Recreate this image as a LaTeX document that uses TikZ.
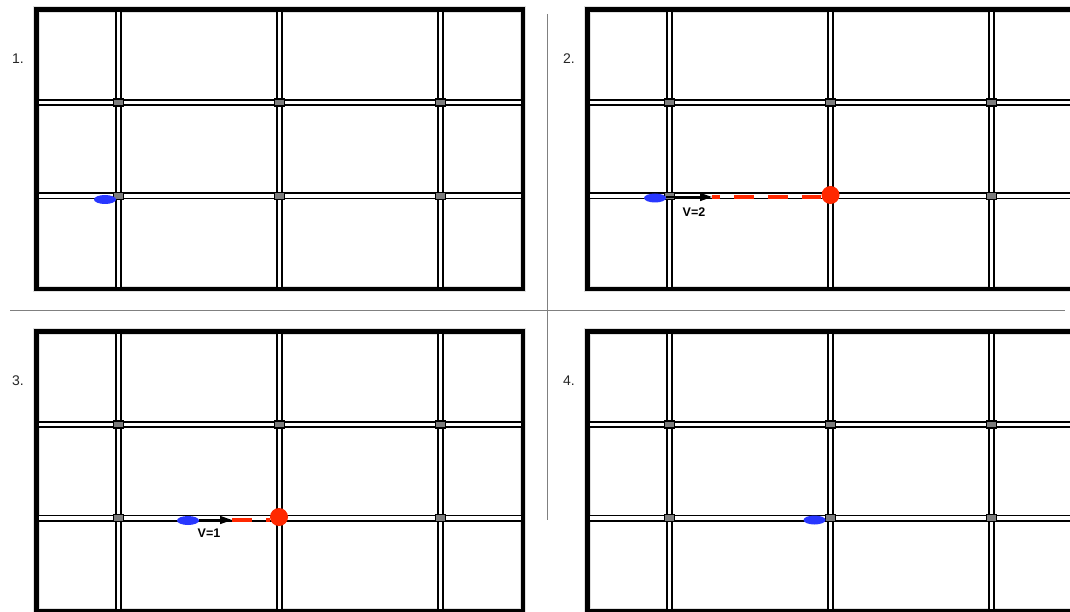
\documentclass[tikz,border=0pt]{standalone}
\usepackage{fontspec}
\setmainfont{Liberation Sans}
\usetikzlibrary{arrows.meta,shapes.geometric}
\definecolor{carblue}{RGB}{40,55,255}
\definecolor{goalred}{RGB}{255,40,0}
\definecolor{crossgray}{RGB}{125,125,125}
\tikzset{
  frameline/.style={line width=4.5pt, draw=black},
  frameshadow/.style={line width=6.5pt, draw=black!12},
  streetout/.style={line width=7pt, draw=black},
  streetin/.style={line width=3.4pt, draw=white},
  crossing/.style={rectangle, draw=black, fill=crossgray, line width=1.2pt, minimum width=9.5pt, minimum height=7pt, inner sep=0pt},
  car/.style={ellipse, fill=carblue, minimum width=22pt, minimum height=9pt, inner sep=0pt},
  goal/.style={circle, fill=goalred, minimum size=18pt, inner sep=0pt},
  panelnum/.style={font=\fontsize{14}{16}\selectfont, text=black!85, inner sep=0pt},
  speedtext/.style={font=\bfseries\fontsize{12.5}{14}\selectfont, inner sep=0pt},
  move/.style={line width=1.5pt, draw=black, -{Triangle[length=12pt,width=8pt]}},
  path/.style={line width=3.5pt, draw=goalred, dash pattern=on 20pt off 14pt},
  divider/.style={line width=1pt, draw=black!50}
}
\newcommand\citypanel[3]{%
\begin{scope}[shift={(#1,#2)}]
  \draw[frameshadow] (36.5,9.5) rectangle (523,289);
  \foreach \x in {118.5,279.5,440.5} \draw[streetout] (\x,9.5) -- (\x,289);
  \foreach \y in {102.5,196} \draw[streetout] (36.5,\y) -- (523,\y);
  \foreach \x in {118.5,279.5,440.5} \draw[streetin] (\x,9.5) -- (\x,289);
  \foreach \y in {102.5,196} \draw[streetin] (36.5,\y) -- (523,\y);
  \foreach \x [count=\i] in {118.5,279.5,440.5}
    \foreach \y [count=\j] in {102.5,196}
      \node[crossing] (#3c\i\j) at (\x,\y) {};
  \draw[frameline] (36.5,9.5) rectangle (523,289);
\end{scope}}
\begin{document}
\begin{tikzpicture}[x=1pt,y=-1pt]
\clip (0,0) rectangle (1070,612);
\fill[white] (0,0) rectangle (1070,612);
% panels
\citypanel{0}{0}{p1}
\citypanel{551}{0}{p2}
\citypanel{0}{322}{p3}
\citypanel{551}{322}{p4}
% dividers
\draw[divider] (547,14) -- (547,520);
\draw[divider] (10,310) -- (1065,310);
% numbers
\node[panelnum] (n1) at (18,59) {1.};
\node[panelnum] (n2) at (569,59) {2.};
\node[panelnum] (n3) at (18,381) {3.};
\node[panelnum] (n4) at (569,381) {4.};
% panel 1
\node[car] (car1) at (105,199.5) {};
% panel 2
\coordinate (tip2) at (712,197);
\node[goal] (goal2) at (830.5,195) {};
\draw[path, dash phase=12pt] (tip2) -- (goal2.west |- tip2);
\node[car] (car2) at (655,198) {};
\draw[move] (car2.east |- tip2) -- (tip2);
\node[speedtext] (v2) at (694,212) {V=2};
% panel 3
\coordinate (tip3) at (232,520);
\node[goal] (goal3) at (279,517) {};
\draw[path] (tip3) -- (goal3.west |- tip3);
\node[car] (car3) at (188,520.5) {};
\draw[move] (car3.east |- tip3) -- (tip3);
\node[speedtext] (v3) at (209,533) {V=1};
% panel 4
\node[car] (car4) at (814.5,520) {};
\end{tikzpicture}
\end{document}
